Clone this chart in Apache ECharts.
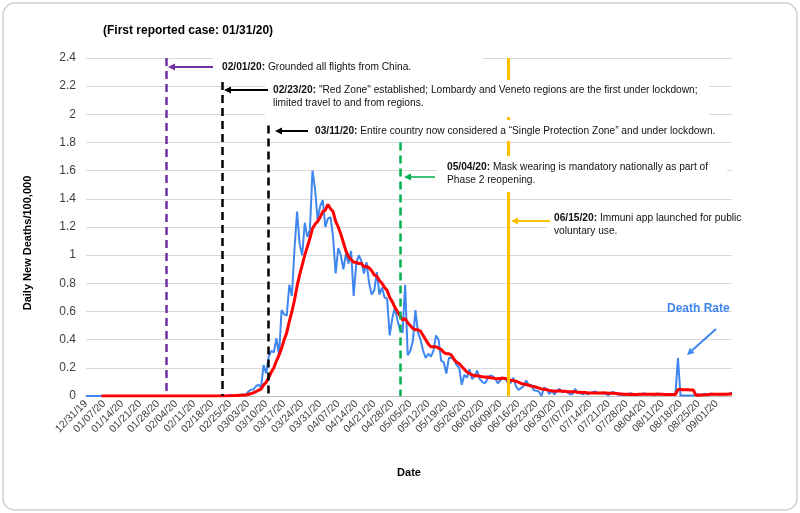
<!DOCTYPE html>
<html>
<head>
<meta charset="utf-8">
<script src="https://cdn.jsdelivr.net/npm/echarts@6/dist/echarts.min.js"></script>
<style>
  html, body { margin: 0; padding: 0; background: #fff; }
  #chart { width: 800px; height: 513px; }
</style>
</head>
<body>
<div id="chart"></div>
<script>
// daily dates 12/31/19 .. 09/07/20
const startDate = Date.UTC(2019, 11, 31)
const dayCount = 252
const dates = []
for (let i = 0; i < dayCount; i++) {
  const d = new Date(startDate + i * 86400000)
  const mm = String(d.getUTCMonth() + 1).padStart(2, '0')
  const dd = String(d.getUTCDate()).padStart(2, '0')
  const yy = String(d.getUTCFullYear()).slice(2)
  dates.push(mm + '/' + dd + '/' + yy)
}

// daily new deaths per 100,000 (blue)
const deathRate = [
  0, 0, 0, 0, 0, 0, 0, 0, 0, 0, 0, 0, 0, 0, 0, 0, 0, 0, 0, 0,
  0, 0, 0, 0, 0, 0, 0, 0, 0, 0, 0, 0, 0, 0, 0, 0, 0, 0, 0, 0,
  0, 0, 0, 0, 0, 0, 0, 0, 0, 0, 0, 0, 0,
  0.002, 0.002, 0.002, 0.007, 0.005, 0.003, 0.008, 0.007, 0.013, 0.008,
  0.03, 0.045, 0.046, 0.068, 0.081, 0.06, 0.22,
  0.16, 0.28, 0.32, 0.31, 0.41, 0.29, 0.61, 0.58, 0.57, 0.79,
  0.71, 1.04, 1.31, 1.08, 1.0, 1.23, 1.13, 1.18, 1.6, 1.47,
  1.25, 1.35, 1.39, 1.2, 1.26, 1.27, 1.13, 0.87, 1.05, 1.0,
  0.9, 1.01, 0.94, 1.03, 0.71, 0.94, 1.0, 0.96, 0.87, 0.95,
  0.8, 0.72, 0.75, 0.88, 0.72, 0.77, 0.70, 0.69, 0.43, 0.55,
  0.63, 0.54, 0.47, 0.45, 0.79, 0.29, 0.32, 0.39, 0.61, 0.45,
  0.40, 0.32, 0.27, 0.30, 0.28, 0.32, 0.43, 0.40, 0.25, 0.24,
  0.16, 0.27, 0.27, 0.26, 0.22, 0.20, 0.08, 0.15, 0.13, 0.19,
  0.12, 0.14, 0.18, 0.12, 0.10, 0.09, 0.12, 0.146, 0.14, 0.12,
  0.09, 0.11, 0.13, 0.12, 0.09, 0.093, 0.13, 0.073, 0.043, 0.056,
  0.07, 0.11, 0.078, 0.08, 0.04, 0.038, 0.03, 0.0, 0.06, 0.05,
  0.013, 0.04, 0.01, 0.038, 0.05, 0.025, 0.035, 0.025, 0.012, 0.013,
  0.05, 0.025, 0.02, 0.012, 0.02, 0.012, 0.022, 0.028, 0.033, 0.018,
  0.022, 0.018, 0.015, 0.005, 0.025, 0.028, 0.015, 0.008, 0.008, 0.008,
  0.008, 0.018, 0.017, 0.01, 0.005, 0.008, 0.013, 0.02, 0.01, 0.015,
  0.01, 0.005, 0.02, 0.01, 0.012, 0.008, 0.01, 0.015, 0.012, 0.01,
  0.27, 0.003, 0.003, 0.003, 0.003, 0.003, 0.003, 0.01, 0.012, 0.008,
  0.015, 0.012, 0.01, 0.018, 0.012, 0.015, 0.01, 0.013, 0.017, 0.012, 0.015, 0.025
]

// smoothed rate (red)
const smoothRate = [
  null, null, null, null, null, null,
  0, 0, 0, 0, 0, 0, 0, 0, 0, 0, 0, 0, 0, 0, 0, 0, 0, 0, 0, 0,
  0, 0, 0, 0, 0, 0, 0, 0, 0, 0, 0, 0, 0, 0, 0, 0, 0, 0, 0, 0,
  0, 0, 0, 0, 0, 0, 0,
  0.0003, 0.0006, 0.001, 0.002, 0.0026, 0.003, 0.004, 0.005, 0.006, 0.007,
  0.011, 0.017, 0.022, 0.031, 0.041, 0.048, 0.079, 0.097, 0.13, 0.17,
  0.2, 0.25, 0.29, 0.34, 0.40, 0.45, 0.53, 0.6, 0.68, 0.78,
  0.86, 0.93, 1.0, 1.06, 1.12, 1.19, 1.22, 1.24, 1.27, 1.31,
  1.32, 1.36, 1.33, 1.31, 1.24, 1.2, 1.15, 1.09, 1.03, 0.99,
  0.97, 0.95, 0.95, 0.94, 0.94, 0.92, 0.92, 0.91, 0.89, 0.86,
  0.85, 0.82, 0.80, 0.77, 0.75, 0.70, 0.67, 0.63, 0.60, 0.57,
  0.54, 0.55, 0.52, 0.50, 0.48, 0.47, 0.47, 0.46, 0.43, 0.40,
  0.37, 0.35, 0.35, 0.35, 0.34, 0.33, 0.31, 0.30, 0.30, 0.29,
  0.26, 0.24, 0.23, 0.21, 0.19, 0.17, 0.16, 0.15, 0.144, 0.144,
  0.14, 0.137, 0.134, 0.135, 0.13, 0.128, 0.125, 0.123, 0.125, 0.127,
  0.124, 0.118, 0.112, 0.11, 0.105, 0.098, 0.09, 0.085, 0.082, 0.076,
  0.07, 0.067, 0.062, 0.056, 0.05, 0.048, 0.045, 0.04, 0.037, 0.034,
  0.036, 0.037, 0.034, 0.033, 0.031, 0.03, 0.03, 0.03, 0.027, 0.026,
  0.025, 0.025, 0.022, 0.021, 0.021, 0.022, 0.022, 0.022, 0.023, 0.022,
  0.019, 0.019, 0.019, 0.018, 0.016, 0.014, 0.012, 0.012, 0.011, 0.012,
  0.011, 0.011, 0.012, 0.012, 0.013, 0.012, 0.013, 0.013, 0.012, 0.013,
  0.012, 0.012, 0.011, 0.011, 0.011, 0.011, 0.011, 0.046, 0.046, 0.045,
  0.045, 0.044, 0.043, 0.042, 0.005, 0.006, 0.007, 0.008, 0.009, 0.011,
  0.012, 0.012, 0.012, 0.013, 0.013, 0.013, 0.013, 0.014, 0.015
]

// event lines (date where each line is drawn, and how high it reaches)
const eventDates = ['01/31/20', '02/22/20', '03/11/20', '05/01/20', '06/12/20']
const eventTops = [2.4, 2.23, 1.92, 1.8, 2.4]
const eventColors = ['#7030a0', '#000000', '#000000', '#00b050', '#ffc000']

const font = '"Liberation Sans", Arial, sans-serif'

const eventLines = eventDates.map((d, i) => {
  const idx = dates.indexOf(d)
  const ls = i === 4
    ? { color: eventColors[i], width: 3, type: 'solid' }
    : { color: eventColors[i], width: 2.5, type: [8, 5] }
  return [
    { coord: [idx, eventTops[i]], lineStyle: ls },
    { coord: [idx, 0], lineStyle: ls }
  ]
})

// arrow: line with a filled head at (x2, y2)
function arrow(x1, y1, x2, y2, color, w) {
  const a = Math.atan2(y2 - y1, x2 - x1)
  const L = 7, H = 3.5
  const bx = x2 - L * Math.cos(a), by = y2 - L * Math.sin(a)
  const px = -Math.sin(a) * H, py = Math.cos(a) * H
  return {
    type: 'group', silent: true,
    children: [
      { type: 'line', z: 110, shape: { x1: x1, y1: y1, x2: bx, y2: by }, style: { stroke: color, lineWidth: w } },
      { type: 'polygon', z: 110, shape: { points: [[x2, y2], [bx + px, by + py], [bx - px, by - py]] }, style: { fill: color } }
    ]
  }
}

// white box with an annotation
function note(box, x, y, text) {
  return {
    type: 'group', silent: true,
    children: [
      { type: 'rect', z: 100, shape: { x: box[0], y: box[1], width: box[2] - box[0], height: box[3] - box[1] }, style: { fill: '#fff' } },
      {
        type: 'text', z: 101, x: x, y: y,
        style: {
          text: text, fill: '#111', fontSize: 10.2, fontFamily: font, lineHeight: 13,
          verticalAlign: 'top',
          rich: { b: { fontWeight: 'bold', fontSize: 10.2, fontFamily: font, fill: '#111', lineHeight: 13 } }
        }
      }
    ]
  }
}

const option = {
  animation: false,
  title: {
    text: '(First reported case: 01/31/20)',
    left: 103, top: 25, padding: 0,
    textStyle: { fontSize: 12, fontWeight: 'bold', color: '#000', fontFamily: font }
  },
  grid: { left: 86, right: 68, top: 58, bottom: 117 },
  xAxis: {
    type: 'category',
    boundaryGap: false,
    data: dates,
    name: 'Date',
    nameLocation: 'middle',
    nameGap: 71,
    nameTextStyle: { fontSize: 11, fontWeight: 'bold', color: '#000', fontFamily: font },
    axisLine: { lineStyle: { color: '#bfbfbf' } },
    axisTick: { show: false },
    axisLabel: { interval: 6, rotate: 45, fontSize: 10.5, color: '#404040', margin: 6, fontFamily: font }
  },
  yAxis: {
    type: 'value',
    min: 0, max: 2.4, interval: 0.2,
    axisLine: { show: false },
    axisTick: { show: false },
    axisLabel: { fontSize: 12, color: '#404040', margin: 10, fontFamily: font },
    splitLine: { lineStyle: { color: '#d9d9d9' } }
  },
  series: [
    {
      name: 'Death Rate', type: 'line', data: deathRate, symbol: 'none', z: 2,
      lineStyle: { color: '#3f86f0', width: 2 }
    },
    {
      name: 'Average', type: 'line', data: smoothRate, symbol: 'none', z: 3,
      lineStyle: { color: '#ff0000', width: 3 }
    },
    {
      name: 'Events', type: 'line', data: [], z: 4,
      markLine: { silent: true, symbol: ['none', 'none'], label: { show: false }, data: eventLines }
    }
  ],
  graphic: [
    { type: 'rect', z: -1, silent: true, shape: { x: 3, y: 3, width: 794, height: 507, r: 12 }, style: { fill: 'none', stroke: '#d0d0d0', lineWidth: 1.5 } },
    {
      type: 'text', z: 110, silent: true, x: 28, y: 243, rotation: Math.PI / 2,
      style: { text: 'Daily New Deaths/100,000', fill: '#000', fontSize: 11, fontWeight: 'bold', fontFamily: font, align: 'center', verticalAlign: 'middle' }
    },
    note([213, 56, 483, 78], 222, 61, '{b|02/01/20:} Grounded all flights from China.'),
    note([265, 80, 709, 117], 273, 84, '{b|02/23/20:} "Red Zone" established; Lombardy and Veneto regions are the first under lockdown;\nlimited travel to and from regions.'),
    note([305, 120, 716, 141], 315, 125, '{b|03/11/20:} Entire country now considered a \u201cSingle Protection Zone\u201d and under lockdown.'),
    note([437, 156, 727, 192], 447, 161, '{b|05/04/20:} Mask wearing is mandatory nationally as part of\nPhase 2 reopening.'),
    note([547, 207, 740, 242], 554, 212, '{b|06/15/20:} Immuni app launched for public\nvoluntary use.'),
    arrow(213, 67, 168, 67, '#7030a0', 2),
    arrow(268, 90, 224, 90, '#000000', 2),
    arrow(308, 131, 275, 131, '#000000', 2),
    arrow(435, 177, 404, 177, '#00b050', 1.5),
    arrow(550, 221, 511, 221, '#ffc000', 2),
    {
      type: 'text', z: 110, silent: true, x: 667, y: 303,
      style: { text: 'Death Rate', fill: '#3f86f0', fontSize: 12, fontWeight: 'bold', fontFamily: font }
    },
    arrow(716, 329, 687, 355, '#3f86f0', 2)
  ]
}

const chart = echarts.init(document.getElementById('chart'))
chart.setOption(option)
window.addEventListener('resize', function () {
  chart.resize()
})
</script>
</body>
</html>
